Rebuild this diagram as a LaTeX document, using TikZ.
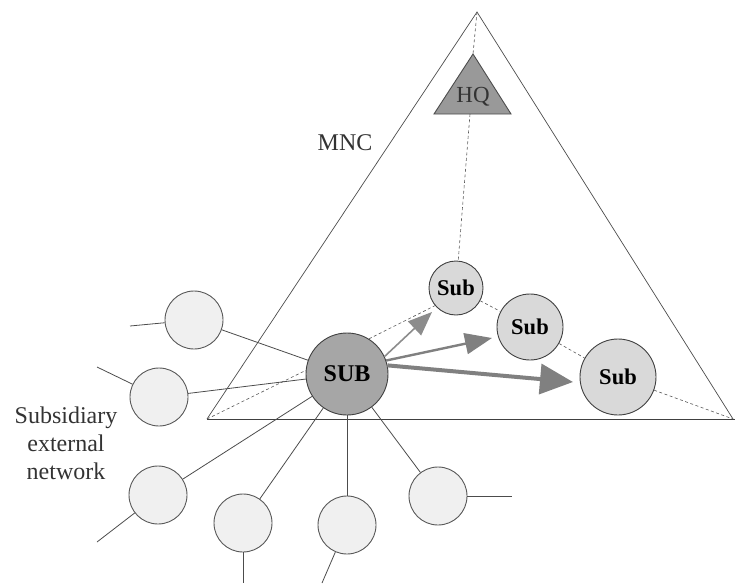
\documentclass[tikz,border=0pt]{standalone}
\usepackage{fontspec}
\setmainfont{Liberation Serif}
\usetikzlibrary{arrows.meta}
\begin{document}
\begin{tikzpicture}[x=1pt,y=-1pt,
  frame/.style={draw=black!70, line width=0.7pt},
  ext/.style={circle, draw=black!65, fill=black!6, minimum size=58pt, inner sep=0pt, line width=0.9pt},
  subn/.style={circle, draw=black!75, fill=black!15, inner sep=0pt, line width=0.9pt,
    font=\bfseries\fontsize{22.5}{24}\selectfont},
  link/.style={draw=black!70, line width=0.8pt},
  dashlink/.style={draw=black!65, line width=0.6pt, dash pattern=on 3pt off 2.5pt},
  arrA/.style={draw=black!45, line width=1.6pt, -{Triangle[length=24pt,width=19pt]}},
  arrB/.style={draw=black!50, line width=2.4pt, -{Triangle[length=27pt,width=21pt]}},
  arrC/.style={draw=black!50, line width=4pt, -{Triangle[length=33pt,width=30pt]}},
  lbl/.style={font=\fontsize{24}{28}\selectfont, text=black!80}
]
\useasboundingbox (0,0) rectangle (735,583);

% MNC triangle
\coordinate (apex) at (477,12);
\coordinate (bl) at (207,419);
\coordinate (br) at (733,419);
\draw[frame] (bl) -- (apex) -- (br);
\draw[draw=black!75, line width=1pt] (bl) -- (735,419);
\node[lbl] (mnc) at (345,143) {MNC};

% HQ triangle
\coordinate (hqtop) at (473,54);
\coordinate (hqbl) at (434,114);
\coordinate (hqbr) at (511,114);
\coordinate (hqbot) at (470,114);
\filldraw[fill=black!40, draw=black!70, line width=0.9pt] (hqtop) -- (hqbl) -- (hqbr) -- cycle;
\node[lbl, font=\fontsize{23}{26}\selectfont] (hq) at (473,97) {HQ};

% subsidiaries
\node[subn, minimum size=54pt] (s1) at (456,288) {Sub};
\node[subn, minimum size=66pt] (s2) at (530,327) {Sub};
\node[subn, minimum size=76pt] (s3) at (618,377) {Sub};
\node[subn, minimum size=82pt, fill=black!35, font=\bfseries\fontsize{24}{26}\selectfont] (SUB) at (347,374) {SUB};

% external network
\node[ext] (e1) at (194,320) {};
\node[ext] (e2) at (159,397) {};
\node[ext] (e3) at (158,495) {};
\node[ext] (e4) at (243,523) {};
\node[ext] (e5) at (347,525) {};
\node[ext] (e6) at (438,496) {};

\coordinate (f1) at (130,326);
\coordinate (f2) at (97,367);
\coordinate (f3) at (97,542);
\coordinate (f4) at (243,583);
\coordinate (f5) at (322,583);
\coordinate (f6) at (512,496);

\draw[link] (f1) -- (e1);
\draw[link] (f2) -- (e2);
\draw[link] (f3) -- (e3);
\draw[link] (e4) -- (f4);
\draw[link] (e5) -- (f5);
\draw[link] (e6) -- (f6);
\foreach \e in {e1,e2,e3,e4,e5,e6} \draw[link] (\e) -- (SUB);

% dashed structure
\draw[dashlink] (apex) -- (hqtop);
\draw[dashlink] (hqbot) -- (s1);
\draw[dashlink] (SUB.58) -- (s1.220);
\draw[dashlink] (s1) -- (s2);
\draw[dashlink] (s2) -- (s3);
\draw[dashlink] (s3) -- (br);
\draw[dashlink] (bl) -- (SUB.175);

% arrows
\coordinate (t1) at (432,312);
\coordinate (t2) at (492,338);
\coordinate (t3) at (573,382);
\draw[arrA] (SUB.25) -- (t1);
\draw[arrB] (SUB.19) -- (t2);
\draw[arrC] (SUB.12) -- (t3);

\node[lbl, align=center] (ext) at (66,443) {Subsidiary\\external\\network};
\end{tikzpicture}
\end{document}
